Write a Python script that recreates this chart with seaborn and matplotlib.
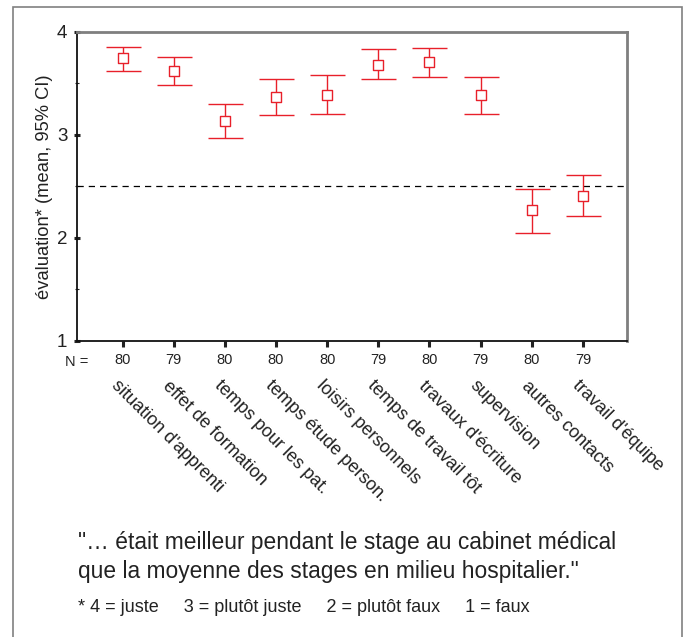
import matplotlib
matplotlib.use("Agg")
import matplotlib.pyplot as plt
from matplotlib.patches import Rectangle
import matplotlib.transforms as mtransforms
import pandas as pd
import seaborn as sns

# values
categories = ["situation d'apprenti", "effet de formation",
              "temps pour les pat.", "temps étude person.",
              "loisirs personnels", "temps de travail tôt",
              "travaux d'écriture", "supervision", "autres contacts",
              "travail d'équipe"]
n_values = [80, 79, 80, 80, 80, 79, 80, 79, 80, 79]
means = [3.745, 3.62, 3.14, 3.366, 3.385, 3.68, 3.71, 3.385, 2.27, 2.41]
ci_low = [3.624, 3.485, 2.968, 3.19, 3.20, 3.544, 3.56, 3.20, 2.045, 2.216]
ci_high = [3.85, 3.76, 3.30, 3.54, 3.586, 3.83, 3.845, 3.56, 2.476, 2.61]
ref_line = 2.5

caption = ('"… était meilleur pendant le stage au cabinet médical\n'
           'que la moyenne des stages en milieu hospitalier."')
footnote = "* 4 = juste     3 = plutôt juste     2 = plutôt faux     1 = faux"

RED = "#e8202a"
INK = "#222222"

sns.set_theme(style="white")
plt.rcParams['font.family'] = ['Liberation Sans', 'DejaVu Sans']


def build_frame():
    """Put the values in one table for seaborn."""
    df = pd.DataFrame({'cat': categories, 'mean': means,
                       'lo': ci_low, 'hi': ci_high, 'n': n_values})
    df['pos'] = range(len(df))
    return df


def plot_chart(df):
    fig = plt.figure(figsize=(6.85, 6.37), dpi=100)
    ax = fig.add_axes([0.1124, 0.4647, 0.8029, 0.4851])

    # confidence intervals
    ax.errorbar(df['pos'], df['mean'],
                yerr=[df['mean'] - df['lo'], df['hi'] - df['mean']],
                fmt='none', ecolor=RED, elinewidth=1.0, capsize=12.6,
                capthick=1.0, zorder=2)
    sns.scatterplot(data=df, x='pos', y='mean', marker='s', s=46,
                    facecolor='white', edgecolor=RED, linewidth=1.0,
                    ax=ax, zorder=3)

    ax.axhline(ref_line, color='black', linestyle=(0, (5, 4)),
               linewidth=0.9, zorder=1)

    ax.set_xlim(-0.89, 9.86)
    ax.set_ylim(1, 4)
    ax.set_yticks([1, 2, 3, 4])
    ax.set_yticks([1.5, 2.5, 3.5], minor=True)
    ax.set_yticklabels(['1', '2', '3', '4'], fontsize=13.5, color=INK)
    ax.tick_params(axis='y', which='major', direction='inout', length=4,
                   width=2.2, color=INK, pad=5, left=True)
    ax.tick_params(axis='y', which='minor', direction='inout', length=3,
                   width=0.8, color=INK, left=True)
    ax.set_xticks(df['pos'])
    ax.set_xticklabels([str(n) for n in df['n']], fontsize=10.5, color=INK)
    ax.tick_params(axis='x', direction='out', length=4, width=2.2,
                   color=INK, pad=5, bottom=True)
    ax.set_xlabel('')
    ax.set_ylabel('évaluation* (mean, 95% CI)', fontsize=13.2,
                  color=INK, labelpad=3)

    for side in ['left', 'bottom']:
        ax.spines[side].set_color('#111111')
        ax.spines[side].set_linewidth(1.3)
    for side in ['top', 'right']:
        ax.spines[side].set_color('#7f7f7f')
        ax.spines[side].set_linewidth(2)

    # N = label and rotated category names
    trans = mtransforms.blended_transform_factory(ax.transData, ax.transAxes)
    ax.text(-0.89, -0.068, 'N =', transform=trans, fontsize=10.5,
            color=INK, ha='center', va='center')
    for pos, name in zip(df['pos'], df['cat']):
        ax.text(pos - 0.04, -0.118, name, transform=trans, fontsize=13,
                rotation=-45, rotation_mode='anchor', ha='left', va='top',
                color=INK)

    fig.text(78 / 685, 1 - 557 / 637, caption, fontsize=16.4,
             color=INK, ha='left', va='center', linespacing=1.3)
    fig.text(78 / 685, 1 - 608 / 637, footnote, fontsize=13,
             color=INK, ha='left', va='center')

    fig.patches.append(Rectangle((13 / 685, -0.05), 669 / 685,
                                 1.05 - 7 / 637, transform=fig.transFigure,
                                 fill=False, edgecolor='#808080',
                                 linewidth=1.2))
    fig.savefig('out.png', dpi=100)


def main():
    df = build_frame()
    plot_chart(df)


main()
